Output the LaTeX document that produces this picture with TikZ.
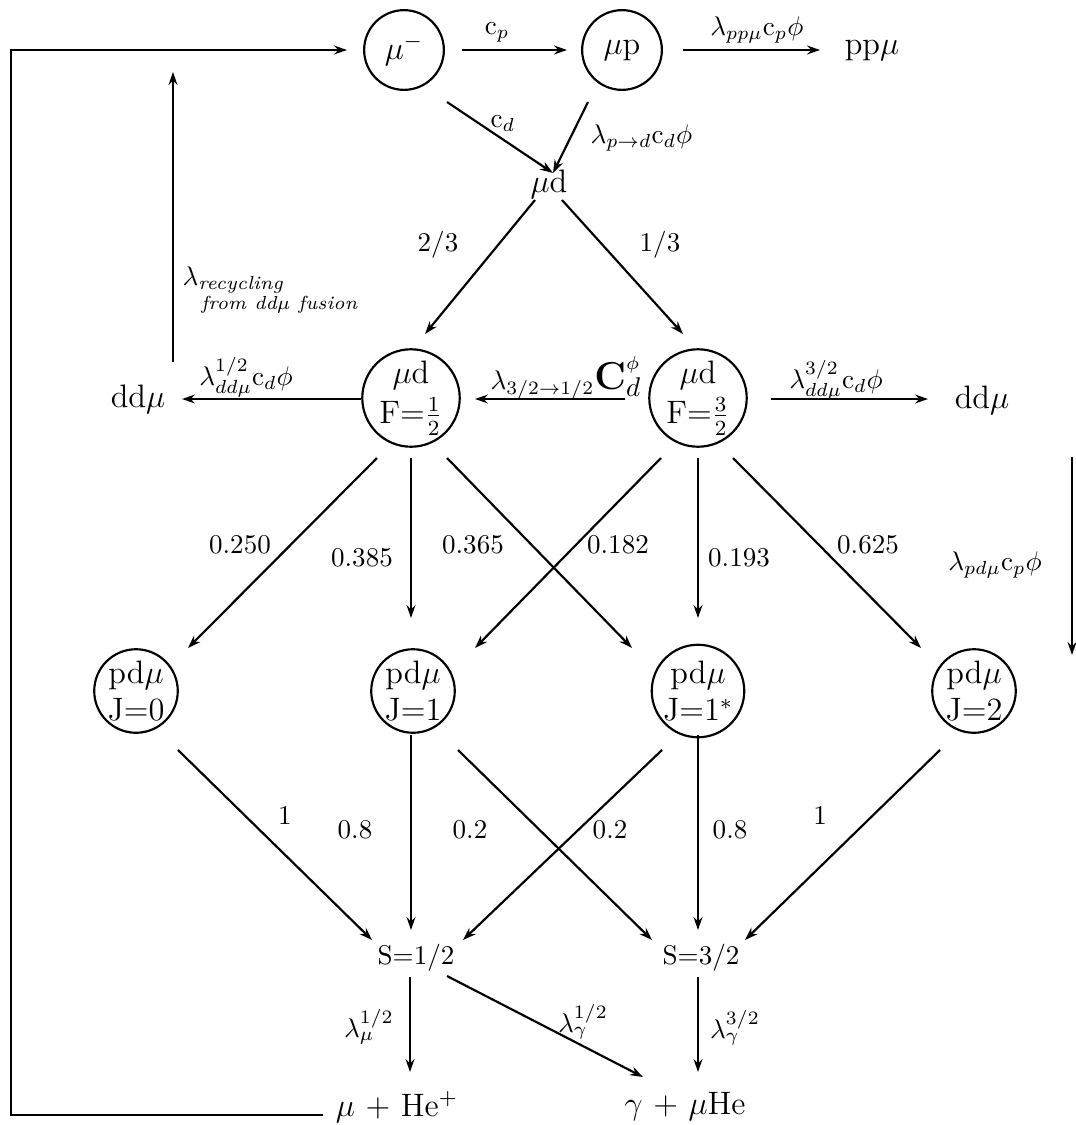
\documentclass[tikz,border=0pt]{standalone}
\usepackage{amsmath}
\usetikzlibrary{arrows.meta,calc}
\begin{document}
\begin{tikzpicture}[x=0.37pt,y=-0.37pt,
  every node/.style={inner sep=0pt},
  state/.style={circle,draw,line width=0.8pt,minimum size=29.5pt,inner sep=0pt,
    align=center,font=\large},
  arr/.style={line width=0.8pt,-{Stealth[length=4.8pt,width=3.3pt]}},
  big/.style={font=\large},
]
\useasboundingbox (0,0) rectangle (1075,1125);

% states
\node[state] (mum) at (404,50) {$\mu^-$};
\node[state] (mup) at (622,50) {$\mu$p};
\node[big] (ppmu) at (872,50) {pp$\mu$};
\node[big] (mud) at (549,184) {$\mu$d};
\node[state] (F1) at (411,398) {$\mu$d\\[1pt]F=$\frac{1}{2}$};
\node[state] (F2) at (698,398) {$\mu$d\\[1pt]F=$\frac{3}{2}$};
\node[big] (ddL) at (138,399) {dd$\mu$};
\node[big] (ddR) at (982,400) {dd$\mu$};
\node[state] (J0) at (136,691) {pd$\mu$\\J=0};
\node[state] (J1) at (413,691) {pd$\mu$\\J=1};
\node[state] (J1s) at (698,691) {pd$\mu$\\J=1$^*$};
\node[state] (J2) at (974,691) {pd$\mu$\\J=2};
\node (S1) at (416,958) {S=1/2};
\node (S2) at (701,958) {S=3/2};
\node[big] (out1) at (397,1107) {$\mu$ + He$^+$};
\node[big] (out2) at (685,1107) {$\gamma$ + $\mu$He};

% free ends
\coordinate (corner) at (11,50);
\coordinate (recbot) at (173,362);
\coordinate (rectop) at (173,72);
\coordinate (pdtop) at (1072,457);
\coordinate (pdbot) at (1072,655);

% muon return loop
\draw[arr] ($(out1)+(-74,8)$) -| (corner) -- ($(mum)+(-57,0)$);
\draw[arr] (recbot) -- (rectop);
\node[anchor=west] (lrec) at (182,290)
  {$\lambda_{\begin{subarray}{l}\text{\itshape recycling}\\
    \text{\itshape\,from dd$\mu$ fusion}\end{subarray}}$};

% capture and transfer
\draw[arr] ($(mum)+(58,0)$) -- ($(mup)+(-55,0)$);
\node (lcp) at (497,32) {c$_p$};
\draw[arr] ($(mup)+(61,0)$) -- ($(ppmu)+(-52,0)$);
\node (lpp) at (757,30) {$\lambda_{pp\mu}\mathrm{c}_p\phi$};
\draw[arr] ($(mum)+(43,52)$) -- ($(mud)+(4,-11)$);
\node (lcd) at (503,123) {c$_d$};
\draw[arr] ($(mup)+(-34,52)$) -- ($(mud)+(4,-11)$);
\node[anchor=west] (lpd) at (590,138) {$\lambda_{p\rightarrow d}\mathrm{c}_d\phi$};

% hyperfine split
\draw[arr] ($(mud)+(-14,16)$) -- ($(F1)+(14,-64)$);
\node (l23) at (438,245) {2/3};
\draw[arr] ($(mud)+(13,16)$) -- ($(F2)+(-15,-64)$);
\node (l13) at (660,245) {1/3};
\draw[arr] ($(F2)+(-73,1)$) -- ($(F1)+(64,1)$);
\node (l32) at (566,378) {$\lambda_{3/2\rightarrow1/2}\mbox{\Large$\mathbf{C}$}_{\textstyle d}^{\phi}$};
\draw[arr] ($(F1)+(-50,1)$) -- ($(ddL)+(44,0)$);
\node (ldd1) at (246,377) {$\lambda_{dd\mu}^{1/2}\mathrm{c}_d\phi$};
\draw[arr] ($(F2)+(73,1)$) -- ($(ddR)+(-54,-1)$);
\node (ldd3) at (836,380) {$\lambda_{dd\mu}^{3/2}\mathrm{c}_d\phi$};

% formation of pd mu states
\draw[arr] ($(F1)+(-34,60)$) -- ($(J0)+(52,-43)$);
\node (l250) at (240,545) {0.250};
\draw[arr] ($(F1)+(0,60)$) -- ($(J1)+(-2,-73)$);
\node (l385) at (362,558) {0.385};
\draw[arr] ($(F1)+(36,60)$) -- ($(J1s)+(-66,-43)$);
\node (l365) at (473,545) {0.365};
\draw[arr] ($(F2)+(-37,60)$) -- ($(J1)+(62,-43)$);
\node (l182) at (618,545) {0.182};
\draw[arr] ($(F2)+(0,60)$) -- ($(J1s)+(0,-73)$);
\node (l193) at (739,558) {0.193};
\draw[arr] ($(F2)+(35,60)$) -- ($(J2)+(-53,-43)$);
\node (l625) at (868,545) {0.625};
\draw[arr] (pdtop) -- (pdbot);
\node (lpdmu) at (995,565) {$\lambda_{pd\mu}\mathrm{c}_p\phi$};

% spin states
\draw[arr] ($(J0)+(42,59)$) -- ($(S1)+(-44,-18)$);
\node (l1a) at (285,815) {1};
\draw[arr] ($(J1)+(-2,44)$) -- ($(S1)+(-5,-28)$);
\node (l08a) at (355,830) {0.8};
\draw[arr] ($(J1)+(45,59)$) -- ($(S2)+(-49,-18)$);
\node (l02a) at (470,830) {0.2};
\draw[arr] ($(J1s)+(-36,59)$) -- ($(S1)+(47,-18)$);
\node (l02b) at (610,830) {0.2};
\draw[arr] ($(J1s)+(0,44)$) -- ($(S2)+(-3,-28)$);
\node (l08b) at (730,830) {0.8};
\draw[arr] ($(J2)+(-34,59)$) -- ($(S2)+(44,-18)$);
\node (l1b) at (820,815) {1};

% decays
\draw[arr] ($(S1)+(-6,19)$) -- ($(out1)+(13,-35)$);
\node (lmu) at (369,1027) {$\lambda_{\mu}^{1/2}$};
\draw[arr] ($(S1)+(31,18)$) -- ($(out2)+(-42,-30)$);
\node (lg1) at (583,1022) {$\lambda_{\gamma}^{1/2}$};
\draw[arr] ($(S2)+(-3,19)$) -- ($(out2)+(13,-35)$);
\node (lg3) at (735,1028) {$\lambda_{\gamma}^{3/2}$};
\end{tikzpicture}
\end{document}
